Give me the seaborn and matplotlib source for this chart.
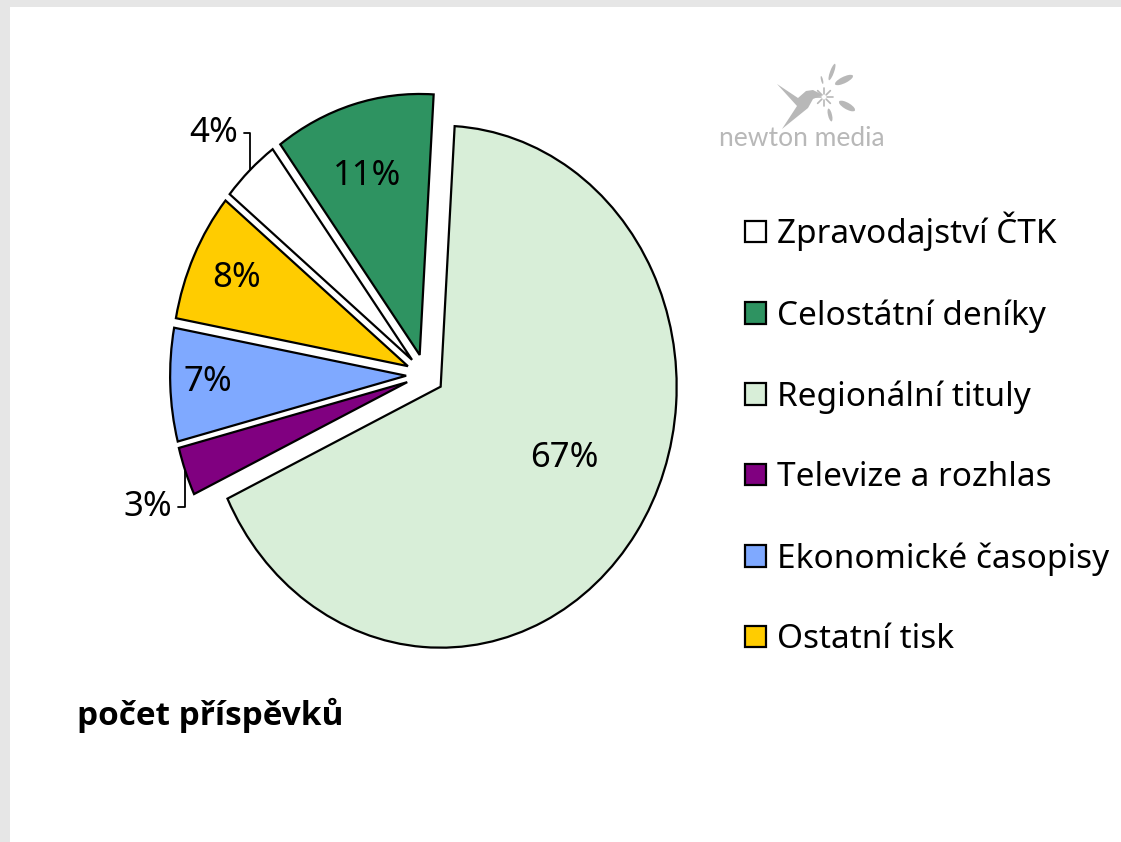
import matplotlib
matplotlib.use('Agg')
import matplotlib.pyplot as plt
import seaborn as sns
from matplotlib.patches import Rectangle, Ellipse, Polygon
import numpy as np

# ---- data ----
categories = ["Zpravodajství ČTK", "Celostátní deníky", "Regionální tituly",
              "Televize a rozhlas", "Ekonomické časopisy", "Ostatní tisk"]
shares = [4, 11, 67, 3, 7, 8]
pct_labels = ["4%", "11%", "67%", "3%", "7%", "8%"]
colors = ["#FFFFFF", "#2E9361", "#D8EED8", "#800080", "#7FA9FF", "#FFCC00"]
title_text = "počet příspěvků"
logo_text = "newton media"

# label placement (radial distance from wedge centre, angle offset in degrees)
label_dist = [1.21, 0.72, 0.59, 1.20, 0.84, 0.80]
label_dang = [0.7, 1.7, 6.6, 3.5, -0.4, 0.0]
outside = [True, False, False, True, False, False]

sns.set_theme(style="white")
plt.rcParams['font.family'] = ['Noto Sans', 'DejaVu Sans']
plt.rcParams['text.color'] = 'black'

W, H = 1121, 842
fig = plt.figure(figsize=(W / 100, H / 100), dpi=100)
fig.patch.set_facecolor('#E6E6E6')
fig.add_artist(Rectangle((10 / W, 0), 1, (H - 7) / H, transform=fig.transFigure,
                         facecolor='white', edgecolor='none', zorder=0))

ax = fig.add_axes([0, 0, 1, 1])
ax.patch.set_alpha(0)
cx, cy, rx, ry = 425, 375, 236, 261
wedges, _ = ax.pie(shares, colors=colors, startangle=140.6, counterclock=False,
                   explode=[0.08] * len(shares), radius=1,
                   wedgeprops=dict(edgecolor='black', linewidth=1.6))
ax.set_aspect('auto')
ax.set_xlim(-cx / rx, (W - cx) / rx)
ax.set_ylim(-(H - cy) / ry, cy / ry)
ax.axis('off')

pct_kw = dict(fontsize=25, family=['Noto Sans', 'Liberation Sans', 'DejaVu Sans'],
              fontstretch='condensed', color='black', ha='center', va='center')
for w, lab, d, da, out in zip(wedges, pct_labels, label_dist, label_dang, outside):
    mid = 0.5 * (w.theta1 + w.theta2)
    c = np.array(w.center)
    a = np.deg2rad(mid + da)
    pos = c + d * np.array([np.cos(a), np.sin(a)])
    if out:
        b = np.deg2rad(mid)
        tip = c + np.array([np.cos(b), np.sin(b)])
        ax.annotate(lab, xy=tip, xytext=pos,
                    arrowprops=dict(arrowstyle='-', color='black', lw=1.3,
                                    connectionstyle='angle,angleA=0,angleB=90,rad=0',
                                    shrinkA=2, shrinkB=0), **pct_kw)
    else:
        ax.text(pos[0], pos[1], lab, **pct_kw)

leg = ax.legend(wedges, categories, loc='center left',
                bbox_to_anchor=(745 / W, 1 - 434 / H), bbox_transform=fig.transFigure,
                frameon=False, fontsize=24, handlelength=0.62, handleheight=0.62,
                handletextpad=0.35, labelspacing=1.43, borderpad=0, borderaxespad=0)
for t in leg.get_texts():
    t.set_color('black')

fig.text(77 / W, 1 - 715 / H, title_text, fontsize=24, fontweight='bold',
         ha='left', va='center', color='black', family=['Open Sans', 'DejaVu Sans'])

# ---- logo ----
logo_grey = '#B8B8B8'
fig.text(802 / W, 1 - 139 / H, logo_text, fontsize=19, color=logo_grey,
         ha='center', va='center', family=['Lato', 'DejaVu Sans'])


def px(x, y):
    return (x / W, 1 - y / H)


bird = [(777, 84), (798, 98), (806, 91), (813, 90), (823, 95), (813, 99),
        (808, 108), (782, 129), (797, 106)]
fig.add_artist(Polygon([px(*p) for p in bird], closed=True, transform=fig.transFigure,
                       facecolor=logo_grey, edgecolor='none'))
petals = [(832, 72, 4, 17, -15), (844, 80, 8, 16, -55), (847, 106, 8, 15, 50),
          (830, 115, 4, 13, 10), (822, 80, 2, 8, 10)]
for (x, y, w_, h_, ang) in petals:
    fig.add_artist(Ellipse(px(x, y), w_ / W, h_ / H, angle=ang,
                           transform=fig.transFigure, facecolor=logo_grey,
                           edgecolor='none'))
for ang in np.linspace(0, 2 * np.pi, 9)[:-1]:
    x0, y0 = 824 + 3 * np.cos(ang), 97 + 3 * np.sin(ang)
    x1, y1 = 824 + 9 * np.cos(ang), 97 + 9 * np.sin(ang)
    fig.add_artist(plt.Line2D([x0 / W, x1 / W], [1 - y0 / H, 1 - y1 / H],
                              transform=fig.transFigure, color=logo_grey, lw=1.2))

fig.savefig('out.png', dpi=100, facecolor=fig.get_facecolor())
